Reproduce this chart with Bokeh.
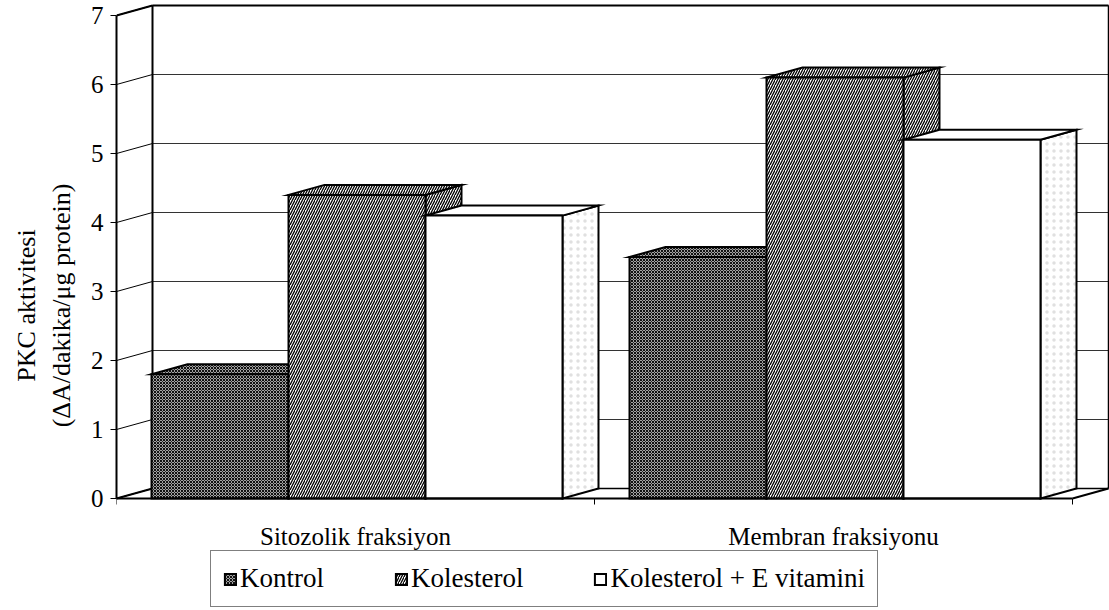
from bokeh.plotting import figure
from bokeh.models import FixedTicker, Legend, LegendItem, Range1d
from bokeh.embed import file_html
from bokeh.resources import INLINE

# ---------------- data ----------------
categories = ["Sitozolik fraksiyon", "Membran fraksiyonu"]
series_names = ["Kontrol", "Kolesterol", "Kolesterol + E vitamini"]
kontrol = [1.8, 3.5]
kolesterol = [4.4, 6.1]
kolesterol_e = [4.1, 5.2]
y_ticks = [0, 1, 2, 3, 4, 5, 6, 7]
y_title = "PKC aktivitesi\n(\u0394A/dakika/\u03bcg protein)"

series_values = [kontrol, kolesterol, kolesterol_e]

# ---------------- layout / style ----------------
W, H = 1109, 610
B_LEFT = 116
FLOOR_Y = 498                 # pixel row of value 0 (front)
PX_PER_CAT = 478.0
PX_PER_UNIT = 69.0
frame_w = W - B_LEFT
x_end = frame_w / PX_PER_CAT
y_top = FLOOR_Y / PX_PER_UNIT
y_bot = -(H - FLOOR_Y) / PX_PER_UNIT
DX = 36 / PX_PER_CAT          # depth offset (x, data units)
DY = 10 / PX_PER_UNIT         # depth offset (y, data units)
GROUP_PAD = 35 / PX_PER_CAT   # gap from category edge to first bar
BAR_W = 137 / PX_PER_CAT
FONT = "Liberation Serif"

styles = [
    dict(fill_color="#a3a3a3", hatch_pattern="diagonal_cross", hatch_scale=3.0,
         hatch_weight=0.9, hatch_color="black"),
    dict(fill_color="white", hatch_pattern="right_diagonal_line", hatch_scale=5.0,
         hatch_weight=1.3, hatch_color="black"),
    dict(fill_color="white", hatch_pattern="dot", hatch_scale=6, hatch_weight=0.6,
         hatch_color="#bbbbbb", hatch_alpha=0.0),
]
side_styles = [
    styles[0], styles[1],
    dict(fill_color="white", hatch_pattern="dot", hatch_scale=7, hatch_weight=0.6,
         hatch_color="#999999", hatch_alpha=0.3),
]

p = figure(width=W, height=H, x_range=Range1d(0, x_end), y_range=Range1d(y_bot, y_top),
           output_backend="svg", toolbar_location=None,
           min_border_left=B_LEFT, min_border_right=0,
           min_border_top=0, min_border_bottom=0)
p.outline_line_color = None
p.xgrid.visible = False
p.ygrid.visible = False
p.background_fill_color = "white"
p.border_fill_color = "white"

n_cat = len(categories)

# ---------------- back wall ----------------
grid_vals = [v for v in y_ticks if v > 0]
p.segment(x0=[DX] * len(grid_vals), y0=[v + DY for v in grid_vals],
          x1=[n_cat + DX] * len(grid_vals), y1=[v + DY for v in grid_vals],
          line_color="#333333", line_width=1)
p.segment(x0=[DX], y0=[y_ticks[-1] + DY], x1=[n_cat + DX], y1=[y_ticks[-1] + DY],
          line_color="black", line_width=2)
p.segment(x0=[0] * len(y_ticks), y0=y_ticks,
          x1=[DX] * len(y_ticks), y1=[v + DY for v in y_ticks],
          line_color="black", line_width=1)
p.segment(x0=[0], y0=[y_ticks[-1]], x1=[DX], y1=[y_ticks[-1] + DY],
          line_color="black", line_width=2)
p.segment(x0=[DX, n_cat + DX], y0=[DY, DY], x1=[DX, n_cat + DX],
          y1=[y_ticks[-1] + DY, y_ticks[-1] + DY], line_color="black", line_width=[2, 1.5])

# ---------------- floor ----------------
p.segment(x0=[DX], y0=[DY], x1=[n_cat + DX], y1=[DY], line_color="black", line_width=1.5)
p.segment(x0=[0, n_cat], y0=[0, 0], x1=[DX, n_cat + DX], y1=[DY, DY],
          line_color="black", line_width=2)

# ---------------- bars ----------------
legend_items = []
for s, (name, vals) in enumerate(zip(series_names, series_values)):
    x0s = [c + GROUP_PAD + s * BAR_W for c in range(n_cat)]
    x1s = [x + BAR_W for x in x0s]
    top_xs = [[a, b, b + DX, a + DX] for a, b in zip(x0s, x1s)]
    top_ys = [[v, v, v + DY, v + DY] for v in vals]
    side_xs = [[b, b + DX, b + DX, b] for b in x1s]
    side_ys = [[0, DY, v + DY, v] for v in vals]
    p.patches(xs=side_xs, ys=side_ys, line_color="black", line_width=2,
              line_join="miter", **side_styles[s])
    p.patches(xs=top_xs, ys=top_ys, line_color="black", line_width=2,
              line_join="miter", **styles[s])
    r = p.quad(left=x0s, right=x1s, bottom=[0] * n_cat, top=vals,
               line_color="black", line_width=2, line_join="miter", **styles[s])
    legend_items.append(LegendItem(label=name, renderers=[r]))

# ---------------- axes ----------------
ya = p.yaxis[0]
ya.ticker = FixedTicker(ticks=y_ticks)
ya.bounds = (y_ticks[0], y_ticks[-1])
ya.axis_line_width = 2
ya.axis_line_color = "black"
ya.major_tick_out = 6
ya.major_tick_in = 0
ya.minor_tick_out = 0
ya.minor_tick_in = 0
ya.major_label_standoff = 7
ya.major_label_text_font = FONT
ya.major_label_text_font_size = "25px"
ya.major_label_text_color = "black"
ya.axis_label = y_title
ya.axis_label_text_font = FONT
ya.axis_label_text_font_size = "26px"
ya.axis_label_text_font_style = "normal"
ya.axis_label_text_color = "black"
ya.axis_label_standoff = 12

xa = p.xaxis[0]
xa.fixed_location = 0
xa.ticker = FixedTicker(ticks=[c + 0.5 for c in range(n_cat)],
                        minor_ticks=list(range(n_cat + 1)))
xa.major_label_overrides = {c + 0.5: categories[c] for c in range(n_cat)}
xa.bounds = (0, n_cat)
xa.axis_line_width = 2
xa.axis_line_color = "black"
xa.major_tick_out = 0
xa.major_tick_in = 0
xa.minor_tick_out = 6
xa.minor_tick_in = 0
xa.minor_tick_line_color = "black"
xa.major_label_standoff = 18
xa.major_label_text_font = FONT
xa.major_label_text_font_size = "25px"
xa.major_label_text_color = "black"

# ---------------- legend ----------------
legend = Legend(items=legend_items, orientation="horizontal", location=(94, 3),
                label_text_font=FONT, label_text_font_size="27px",
                label_text_color="black",
                glyph_width=14, glyph_height=14, label_standoff=3, spacing=70,
                padding=12, margin=0, label_height=26,
                border_line_color="black", border_line_width=1,
                background_fill_color="white", background_fill_alpha=1.0)
p.add_layout(legend)

open("out.html", "w").write(file_html(p, INLINE))
